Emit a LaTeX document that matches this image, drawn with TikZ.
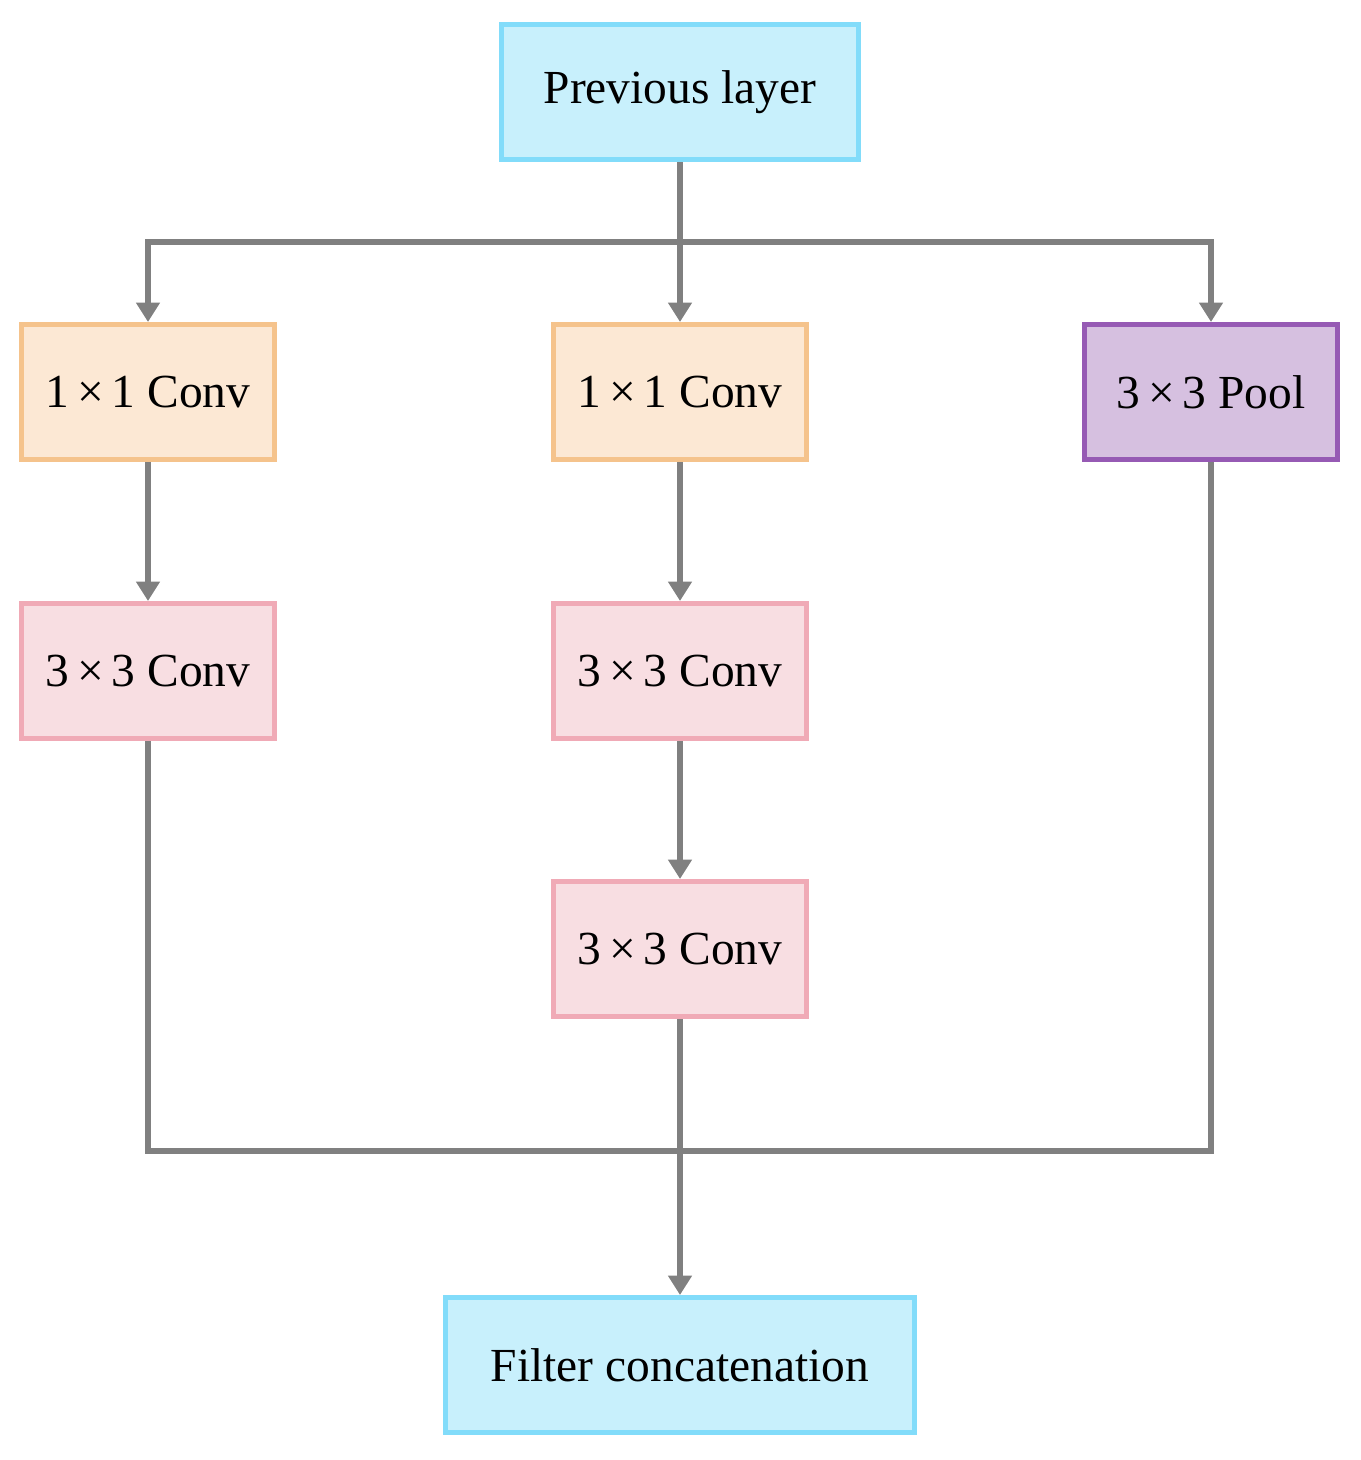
\documentclass[tikz,border=0pt]{standalone}
\usepackage{fontspec}
\setmainfont{Liberation Serif}
\usetikzlibrary{arrows.meta}
\definecolor{bfill}{RGB}{200,240,252}\definecolor{bdraw}{RGB}{130,220,250}
\definecolor{ofill}{RGB}{252,232,212}\definecolor{odraw}{RGB}{245,195,140}
\definecolor{pfill}{RGB}{248,222,226}\definecolor{pdraw}{RGB}{240,170,182}
\definecolor{ufill}{RGB}{214,192,224}\definecolor{udraw}{RGB}{150,90,180}
\definecolor{ln}{RGB}{128,128,128}
\begin{document}
\begin{tikzpicture}[x=0.02cm,y=-0.02cm,
box/.style={draw,line width=2.8pt,minimum height=140*0.02cm-2.8pt,inner sep=0pt,font=\fontsize{27}{32}\selectfont},
blue/.style={box,fill=bfill,draw=bdraw},
org/.style={box,fill=ofill,draw=odraw,minimum width=258*0.02cm-2.8pt},
pnk/.style={box,fill=pfill,draw=pdraw,minimum width=258*0.02cm-2.8pt},
pur/.style={box,fill=ufill,draw=udraw,minimum width=258*0.02cm-2.8pt},
ar/.style={draw=ln,line width=3.4pt,-{Triangle[width=13pt,length=11pt]}},
ln/.style={draw=ln,line width=3.4pt}]
\useasboundingbox (0,0) rectangle (1361,1460);
\node[blue,minimum width=362*0.02cm-2.8pt] (prev) at (680,92) {Previous layer};
\node[org] (c1a) at (148,392) {1\,×\,1 Conv};
\node[org] (c1b) at (680,392) {1\,×\,1 Conv};
\node[pur] (pool) at (1211,392) {3\,×\,3 Pool};
\node[pnk] (c3a) at (148,671) {3\,×\,3 Conv};
\node[pnk] (c3b) at (680,671) {3\,×\,3 Conv};
\node[pnk] (c3c) at (680,949) {3\,×\,3 Conv};
\node[blue,minimum width=474*0.02cm-2.8pt] (cat) at (680,1365) {Filter concatenation};
\coordinate (s) at (680,242);
\coordinate (m) at (680,1151);
\draw[ar] (prev) -- (c1b);
\draw[ar] (s) -| (c1a);
\draw[ar] (s) -| (pool);
\draw[ar] (c1a) -- (c3a);
\draw[ar] (c1b) -- (c3b);
\draw[ar] (c3b) -- (c3c);
\draw[ln] (c3a) |- (m);
\draw[ln] (pool) |- (m);
\draw[ar] (c3c) -- (cat);
\end{tikzpicture}
\end{document}
